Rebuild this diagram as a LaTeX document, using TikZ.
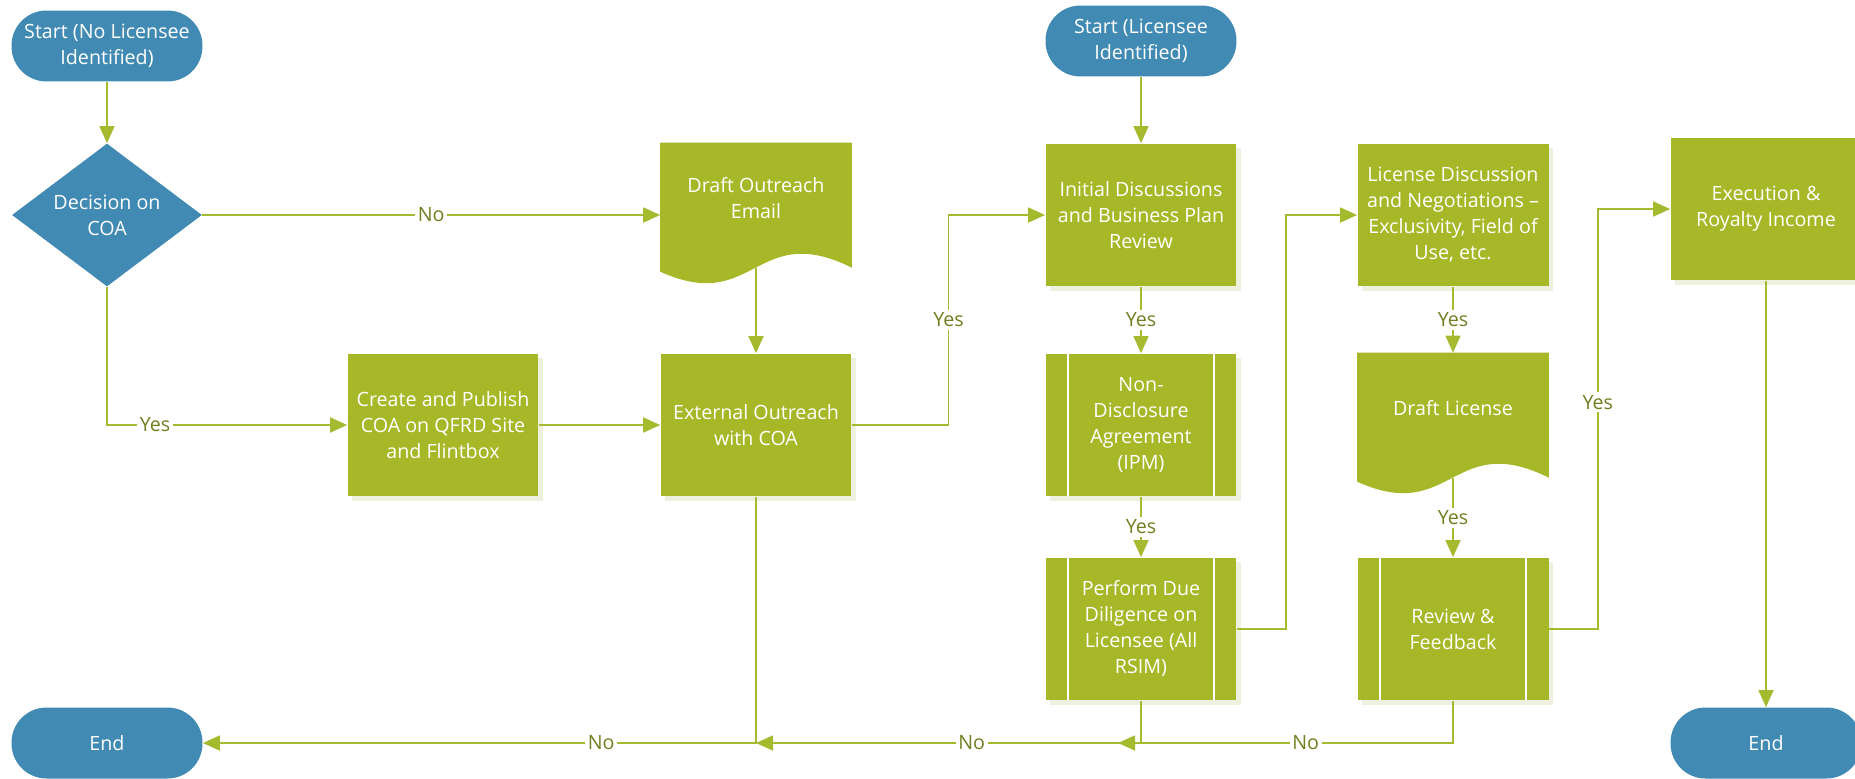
\documentclass[tikz,border=0pt]{standalone}
\usepackage{fontspec}
\setmainfont{Open Sans}
\usetikzlibrary{arrows.meta,calc,shapes.geometric,shadows,backgrounds}
\definecolor{flowblue}{RGB}{65,138,179}
\definecolor{flowgreen}{RGB}{166,184,40}
\definecolor{flowline}{RGB}{166,186,48}
\definecolor{flowlabel}{RGB}{112,128,32}
\definecolor{flowshade}{RGB}{238,241,224}
\newcommand{\txt}{\fontsize{11.2pt}{14.8pt}\selectfont}
\tikzset{
  term/.style={rectangle, rounded corners=0.7cm, fill=flowblue, text=white,
               minimum width=3.82cm, minimum height=1.42cm, align=center, font=\txt},
  decide/.style={diamond, aspect=1.33, fill=flowblue, text=white, inner sep=0pt,
                 minimum width=3.8cm, minimum height=2.86cm, align=center, font=\txt},
  proc/.style={rectangle, fill=flowgreen, text=white, minimum width=3.82cm,
               minimum height=2.86cm, align=center, font=\txt,
               general shadow={fill=flowshade, shadow xshift=0.09cm, shadow yshift=-0.09cm}},
  subproc/.style={proc, path picture={\draw[white, line width=0.9pt]
      ([xshift=0.45cm]path picture bounding box.north west) -- ([xshift=0.45cm]path picture bounding box.south west)
      ([xshift=-0.45cm]path picture bounding box.north east) -- ([xshift=-0.45cm]path picture bounding box.south east);}},
  docnode/.style={rectangle, minimum width=3.82cm, minimum height=2.2cm, text=white,
                  align=center, font=\txt},
  flow/.style={-{Triangle[length=0.34cm, width=0.3cm]}, flowline, line width=0.9pt},
  lbl/.style={fill=white, text=flowlabel, inner sep=1.5pt, font=\txt},
}
% wavy document body under a docnode
\newcommand{\docbody}[1]{%
  \fill[flowgreen] (#1.north west) -- ($(#1.north west)+(0,129)$)
    .. controls ($(#1.north west)+(95,172)$) and ($(#1.north west)+(95,77)$) ..
    ($(#1.north east)+(0,125)$) -- (#1.north east) -- cycle;}

\begin{document}
\begin{tikzpicture}[x=0.02cm, y=-0.02cm]
  \useasboundingbox (0,0) rectangle (1855,778);
  % no licensee yet
  \node[term] (startA) at (107,46) {Start (No Licensee\\Identified)};
  \node[decide] (dec) at (107,215) {Decision on\\COA};
  \node[term] (endA) at (107,743) {End};
  \node[proc] (create) at (443,425) {Create and Publish\\COA on QFRD Site\\and Flintbox};
  \node[docnode] (mail) at (756,198) {Draft Outreach\\Email};
  \node[proc] (ext) at (756,425) {External Outreach\\with COA};
  % licensee identified
  \node[term] (startB) at (1141,41) {Start (Licensee\\Identified)};
  \node[proc] (init) at (1141,215) {Initial Discussions\\and Business Plan\\Review};
  \node[subproc] (nda) at (1141,425) {Non-\\Disclosure\\Agreement\\(IPM)};
  \node[subproc] (perf) at (1141,629) {Perform Due\\Diligence on\\Licensee (All\\RSIM)};
  \node[proc] (lic) at (1453,215) {License Discussion\\and Negotiations –\\Exclusivity, Field of\\Use, etc.};
  \node[docnode] (dlic) at (1453,408) {Draft License};
  \node[subproc] (rev) at (1453,629) {Review \&\\Feedback};
  \node[proc] (exe) at (1766,209) {Execution \&\\Royalty Income};
  \node[term] (endB) at (1766,743) {End};
  \begin{scope}[on background layer]
    \docbody{mail}
    \docbody{dlic}
  \end{scope}

  \draw[flow] (startA) -- (dec);
  \draw[flow] (dec.east) -- node[lbl] {No} (dec.east -| mail.west);
  \draw[flow] (dec.south) |- node[lbl, pos=0.6] {Yes} (create.west);
  \draw[flow] ([yshift=-0.3cm]mail.south) -- (ext);
  \draw[flow] (create) -- (ext);
  \draw[flow] (ext.east) -| ($(ext.east)!.5!(init.west)$) node[lbl] {Yes} |- (init.west);
  \draw[flow] (startB) -- (init);
  \draw[flow] (init) -- node[lbl] {Yes} (nda);
  \draw[flow] (nda) -- node[lbl] {Yes} (perf);
  \draw[flow] (perf.east) -- ++(49,0) |- (lic.west);
  \draw[flow] (lic) -- node[lbl] {Yes} (dlic);
  \draw[flow] ([yshift=-0.3cm]dlic.south) -- node[lbl] {Yes} (rev);
  \draw[flow] (rev.east) -- ++(49,0) |- node[lbl, pos=0.27] {Yes} (exe.west);
  \draw[flow] (exe) -- (endB);
  \draw[flow] (ext.south) |- node[lbl, pos=0.64] {No} (endA.east);
  \draw[flow] (perf.south) |- node[lbl, pos=0.72] {No} (ext.south |- endA.east);
  \draw[flow] (rev.south) |- node[lbl, pos=0.72] {No} ($(perf.south |- endA.east)+(-23,0)$);
\end{tikzpicture}
\end{document}
